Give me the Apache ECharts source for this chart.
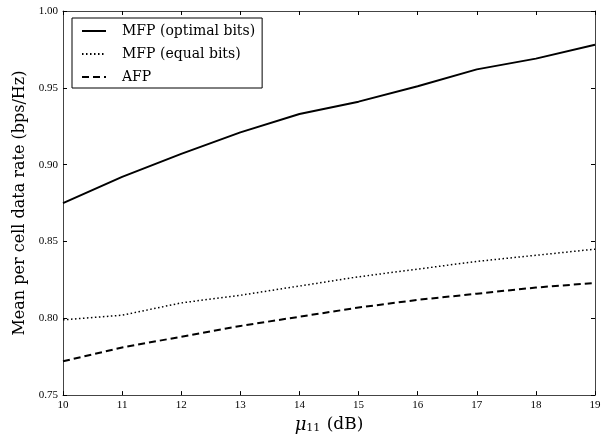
<!DOCTYPE html>
<html>
<head>
<meta charset="utf-8">
<script src="https://cdn.jsdelivr.net/npm/echarts@6/dist/echarts.min.js"></script>
<style>
  html, body { margin: 0; padding: 0; background: #fff; }
  #chart { width: 613px; height: 439px; }
</style>
</head>
<body>
<div id="chart"></div>
<script>
// data
var mu = [10, 11, 12, 13, 14, 15, 16, 17, 18, 19];
var mfpOptimal = [0.875, 0.892, 0.907, 0.921, 0.933, 0.941, 0.951, 0.962, 0.969, 0.978];
var mfpEqual   = [0.799, 0.802, 0.810, 0.815, 0.821, 0.827, 0.832, 0.837, 0.841, 0.845];
var afp        = [0.772, 0.781, 0.788, 0.795, 0.801, 0.807, 0.812, 0.816, 0.820, 0.823];
var seriesNames = ['MFP (optimal bits)', 'MFP (equal bits)', 'AFP'];

var tickFont = 'Liberation Serif';
var textFont = 'DejaVu Serif';

function pairs(ys) {
    var out = [];
    for (var i = 0; i < mu.length; i++) out.push([mu[i], ys[i]]);
    return out;
}

function lineSeries(name, ys, type, width) {
    return {
        name: name,
        type: 'line',
        data: pairs(ys),
        symbol: 'none',
        lineStyle: { color: '#000', width: width, type: type },
        itemStyle: { color: '#000' },
        animation: false
    };
}

var axisCommon = {
    axisLine: { lineStyle: { color: '#444', width: 1 } },
    axisTick: { inside: true, length: 4, lineStyle: { color: '#000' } },
    splitLine: { show: false }
};

var myChart = echarts.init(document.getElementById('chart'));
myChart.setOption({
    backgroundColor: '#fff',
    animation: false,
    grid: { left: 63, right: 18, top: 11, bottom: 40 },
    legend: {
        orient: 'vertical',
        left: 72,
        top: 18,
        data: seriesNames,
        itemWidth: 24,
        itemHeight: 12,
        itemGap: 9,
        padding: [6, 7, 4, 9],
        borderColor: '#000',
        borderWidth: 1,
        itemStyle: { opacity: 0 },
        textStyle: { fontFamily: textFont, fontSize: 14, color: '#000', padding: [0, 0, 0, 11] }
    },
    xAxis: [
        Object.assign({
            type: 'value', min: 10, max: 19, interval: 1,
            name: '{mu|μ}{sub|11} (dB)',
            nameLocation: 'middle',
            nameGap: 20,
            nameTextStyle: {
                fontFamily: textFont, fontSize: 17, color: '#000',
                rich: {
                    mu: { fontFamily: textFont, fontSize: 18, fontStyle: 'italic', color: '#000' },
                    sub: { fontFamily: textFont, fontSize: 11, color: '#000', verticalAlign: 'bottom', padding: [7, 1, 0, 0] }
                }
            },
            axisLabel: { fontFamily: tickFont, fontSize: 11, color: '#000', margin: 5 }
        }, axisCommon),
        Object.assign({
            type: 'value', min: 10, max: 19, interval: 1, position: 'top',
            axisLabel: { show: false }
        }, axisCommon)
    ],
    yAxis: [
        Object.assign({
            type: 'value', min: 0.75, max: 1.0, interval: 0.05,
            name: 'Mean per cell data rate (bps/Hz)',
            nameLocation: 'middle',
            nameGap: 34,
            nameTextStyle: { fontFamily: textFont, fontSize: 16, color: '#000' },
            axisLabel: {
                fontFamily: tickFont, fontSize: 11, color: '#000', margin: 5,
                formatter: function (v) { return v.toFixed(2); }
            }
        }, axisCommon),
        Object.assign({
            type: 'value', min: 0.75, max: 1.0, interval: 0.05, position: 'right',
            axisLabel: { show: false }
        }, axisCommon)
    ],
    series: [
        lineSeries(seriesNames[0], mfpOptimal, 'solid', 2),
        lineSeries(seriesNames[1], mfpEqual, [1.5, 2.5], 1.5),
        lineSeries(seriesNames[2], afp, [7, 4], 2)
    ]
});
</script>
</body>
</html>
